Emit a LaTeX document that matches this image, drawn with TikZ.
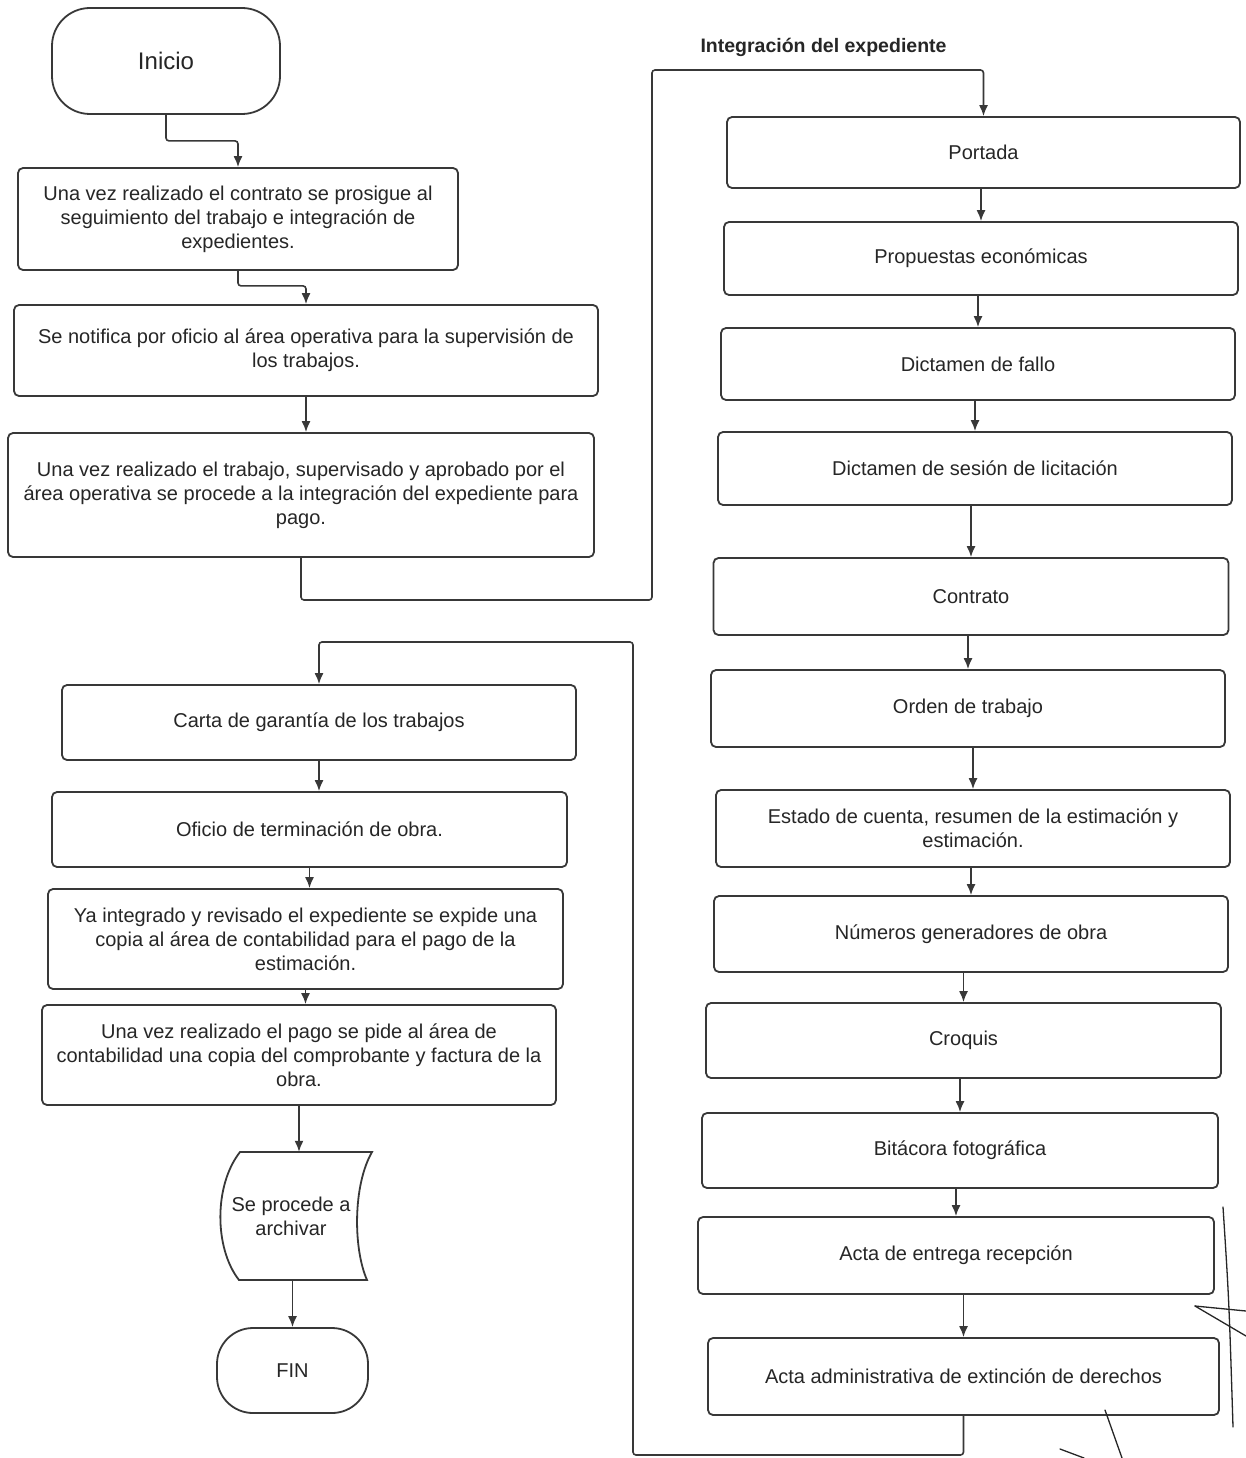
\documentclass[tikz,border=0pt]{standalone}
\usepackage{fontspec}
\setmainfont{Liberation Sans}
\usetikzlibrary{arrows.meta}
\begin{document}
\begin{tikzpicture}[x=1pt,y=-1pt,
  ln/.style={draw=black!78,line width=1.8pt},
  stepbox/.style={ln,rounded corners=5pt,align=center,inner sep=0pt,
    font=\fontsize{20}{24}\selectfont,text=black!85},
  term/.style={ln,rounded corners=38pt,align=center,inner sep=0pt,text=black!85},
  arr/.style={draw=black!78,line width=1.6pt,rounded corners=3pt,
    -{Latex[length=11pt,width=9pt]}},
  pen/.style={draw=black!85,line width=1.3pt,line cap=round}]

\fill[white] (0,0) rectangle (1246,1458);
\useasboundingbox (0,0) rectangle (1246,1458);

% ---------- left column, upper part ----------
\node[term,minimum width=228pt,minimum height=106pt,
  font=\fontsize{24}{28}\selectfont] (ini) at (166,61) {Inicio};

\node[stepbox,minimum width=440pt,minimum height=102pt] (b1) at (238,219)
  {Una vez realizado el contrato se prosigue al\\seguimiento del trabajo e integración de\\expedientes.};

\node[stepbox,minimum width=584pt,minimum height=91pt] (b2) at (306,350.5)
  {Se notifica por oficio al área operativa para la supervisión de\\los trabajos.};

\node[stepbox,minimum width=586pt,minimum height=124pt] (b3) at (301,495)
  {Una vez realizado el trabajo, supervisado y aprobado por el\\área operativa se procede a la integración del expediente para\\pago.};

% ---------- right column ----------
\node[anchor=west,font=\bfseries\fontsize{19.5}{23}\selectfont,text=black!85]
  (title) at (697,47) {Integración del expediente};

\node[stepbox,minimum width=513pt,minimum height=71pt] (r1) at (983.5,152.5) {Portada};
\node[stepbox,minimum width=514pt,minimum height=73pt] (r2) at (981,258.5) {Propuestas económicas};
\node[stepbox,minimum width=514pt,minimum height=72pt] (r3) at (978,364) {Dictamen de fallo};
\node[stepbox,minimum width=514pt,minimum height=73pt] (r4) at (975,468.5) {Dictamen de sesión de licitación};
\node[stepbox,minimum width=515pt,minimum height=77pt] (r5) at (971,596.5) {Contrato};
\node[stepbox,minimum width=514pt,minimum height=77pt] (r6) at (968,708.5) {Orden de trabajo};
\node[stepbox,minimum width=514pt,minimum height=77pt] (r7) at (973,828.5)
  {Estado de cuenta, resumen de la estimación y\\estimación.};
\node[stepbox,minimum width=514pt,minimum height=76pt] (r8) at (971,934) {Números generadores de obra};
\node[stepbox,minimum width=515pt,minimum height=75pt] (r9) at (963.5,1040.5) {Croquis};
\node[stepbox,minimum width=516pt,minimum height=75pt] (r10) at (960,1150.5) {Bitácora fotográfica};
\node[stepbox,minimum width=516pt,minimum height=77pt] (r11) at (956,1255.5) {Acta de entrega recepción};
\node[stepbox,minimum width=511pt,minimum height=77pt] (r12) at (963.5,1376.5)
  {Acta administrativa de extinción de derechos};

% ---------- left column, lower part ----------
\node[stepbox,minimum width=514pt,minimum height=75pt] (c1) at (319,722.5)
  {Carta de garantía de los trabajos};
\node[stepbox,minimum width=515pt,minimum height=75pt] (c2) at (309.5,829.5)
  {Oficio de terminación de obra.};
\node[stepbox,minimum width=515pt,minimum height=100pt] (c3) at (305.5,939)
  {Ya integrado y revisado el expediente se expide una\\copia al área de contabilidad para el pago de la\\estimación.};
\node[stepbox,minimum width=514pt,minimum height=100pt] (c4) at (299,1055)
  {Una vez realizado el pago se pide al área de\\contabilidad una copia del comprobante y factura de la\\obra.};

% stored-data symbol
\draw[ln] (240,1152) -- (372,1152)
  .. controls (353,1185) and (353,1248) .. (367,1280) -- (239,1280)
  .. controls (214,1248) and (214,1185) .. (240,1152) -- cycle;
\node[minimum width=150pt,minimum height=128pt,inner sep=0pt,align=center,
  font=\fontsize{20}{24}\selectfont,text=black!85] (arch) at (291,1216)
  {Se procede a\\archivar};

\node[term,rounded corners=36pt,minimum width=151pt,minimum height=85pt,
  font=\fontsize{20}{24}\selectfont] (fin) at (292.5,1370.5) {FIN};

% ---------- connectors ----------
\coordinate (j1) at (652,600);
\coordinate (j2) at (652,70);
\coordinate (k1) at (633,1455);
\coordinate (k2) at (633,642);

\draw[arr] (ini.south) -- ++(0,26) -| (b1.north);
\draw[arr] (b1.south) -- ++(0,15) -| (b2.north);
\draw[arr] (b2.south) -- (b2.south |- b3.north);
\draw[arr] (b3.south) |- (j1) -- (j2) -| (r1.north);

\draw[arr] (r1.south -| r2.north) -- (r2.north);
\draw[arr] (r2.south -| r3.north) -- (r3.north);
\draw[arr] (r3.south -| r4.north) -- (r4.north);
\draw[arr] (r4.south -| r5.north) -- (r5.north);
\draw[arr] (r5.south -| r6.north) -- (r6.north);
\draw[arr] (r6.south -| r7.north) -- (r7.north);
\draw[arr] (r7.south -| r8.north) -- (r8.north);
\draw[arr] (r8.south -| r9.north) -- (r9.north);
\draw[arr] (r9.south -| r10.north) -- (r10.north);
\draw[arr] (r10.south -| r11.north) -- (r11.north);
\draw[arr] (r11.south -| r12.north) -- (r12.north);

\draw[arr] (r12.south) |- (k1) -- (k2) -| (c1.north);

\draw[arr] (c1.south) -- (c1.south |- c2.north);
\draw[arr] (c2.south) -- (c2.south |- c3.north);
\draw[arr] (c3.south) -- (c3.south |- c4.north);
\draw[arr] (c4.south) -- (c4.south |- arch.north);
\draw[arr] (arch.south -| fin.north) -- (fin.north);

% ---------- pen marks ----------
\draw[pen] (1223,1207) .. controls (1229,1300) .. (1233,1427);
\draw[pen] (1195,1306) -- (1246,1311);
\draw[pen] (1195,1306) -- (1246,1336);
\draw[pen] (1105,1410) -- (1122,1458);
\draw[pen] (1060,1449) -- (1084,1458);

\end{tikzpicture}
\end{document}
